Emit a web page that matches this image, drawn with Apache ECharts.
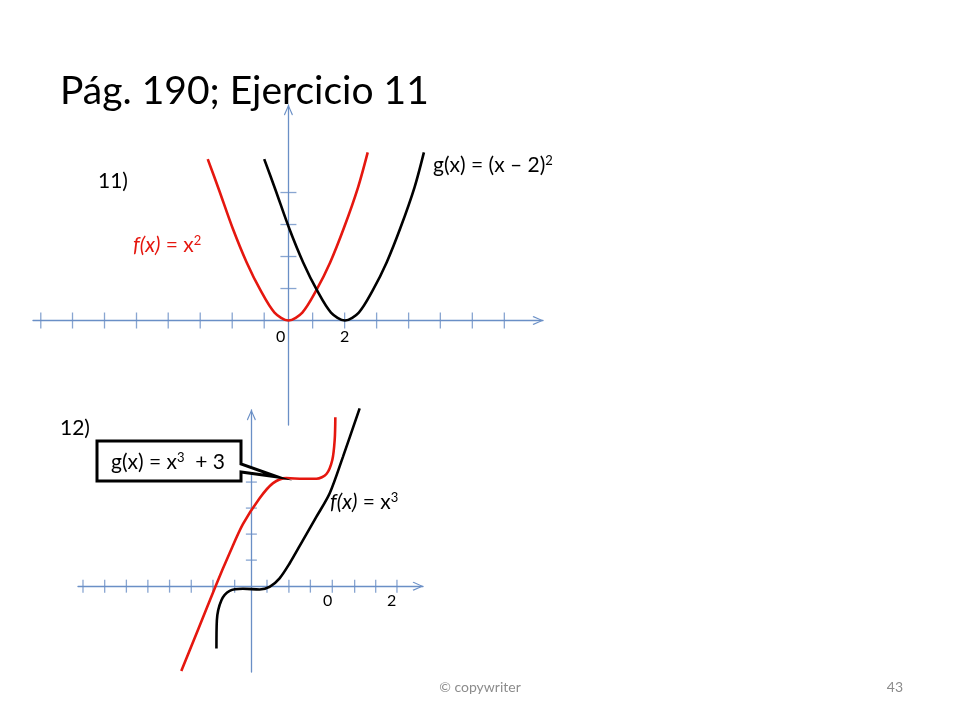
<!DOCTYPE html>
<html lang="es">
<head>
<meta charset="UTF-8">
<title>Pág. 190; Ejercicio 11</title>
<style>
  html, body { margin: 0; padding: 0; background: #fff; }
  #chart { width: 960px; height: 720px; }
</style>
</head>
<body>
<div id="chart"></div>
<script src="https://cdn.jsdelivr.net/npm/echarts@6/dist/echarts.min.js"></script>
<script>
// ---- datos ----
// ejercicio 11: f(x) = x^2 (rojo) y g(x) = (x - 2)^2 (negro)
var f11 = [[-2.90, 10.09], [-2.5, 8.19], [-2.0, 5.75], [-1.5, 3.63], [-1.0, 1.88], [-0.5, 0.5], [0, 0],
           [0.5, 0.5], [1.0, 1.88], [1.5, 3.63], [2.0, 5.81], [2.5, 8.31], [2.85, 10.51]];
var g11 = [[-0.87, 10.09], [-0.47, 8.19], [0.03, 5.75], [0.53, 3.63], [1.03, 1.88], [1.53, 0.5], [2.03, 0],
           [2.53, 0.5], [3.03, 1.88], [3.53, 3.63], [4.03, 5.81], [4.53, 8.31], [4.87, 10.51]];
var ticksX11 = [-8.90, -7.76, -6.61, -5.46, -4.32, -3.17, -2.02, -0.87, 0.87, 2.02, 3.17, 4.32, 5.46, 6.61, 7.76];
var ticksY11 = [2, 4, 6, 8];

// ejercicio 12: f(x) = x^3 (negro) y g(x) = x^3 + 3 (rojo)
var g12 = [[-3.23, -3.26], [-2.43, -1.62], [-1.65, 0], [-1.00, 1.27], [-0.39, 2.38], [0.38, 3.38],
           [1.00, 3.96], [1.61, 4.15], [2.38, 4.13], [3.00, 4.13], [3.46, 4.31], [3.73, 4.85],
           [3.84, 5.62], [3.87, 6.49]];
var f12 = [[-1.61, -2.40], [-1.59, -1.31], [-1.38, -0.54], [-1.00, -0.18], [-0.39, -0.10], [0.38, -0.13],
           [0.84, -0.03], [1.30, 0.30], [1.76, 0.87], [2.38, 1.77], [3.00, 2.67], [3.61, 3.57],
           [4.22, 4.97], [4.99, 6.83]];
var ticksX12 = [-7.76, -6.76, -5.76, -4.77, -3.77, -2.77, -1.77, -0.77, 0.72, 1.73, 2.72, 3.73, 4.76, 5.73, 6.71];
var ticksY12 = [1, 2, 3, 4];

var AXIS = '#6a8fc6';
var RED = '#e5170f';
var FONT = 'Lato, "Open Sans", sans-serif';
var ARROW = 'path://M5,0 L10,11 L9,12 L5,2.6 L1,12 L0,11 Z';

function eje(grid, min, max) {
  return {
    type: 'value', gridIndex: grid, min: min, max: max,
    axisLine: { onZero: true, lineStyle: { color: AXIS, width: 1.3 },
                symbol: ['none', ARROW], symbolSize: [9, 11], symbolOffset: [0, -5] },
    axisTick: { show: false }, axisLabel: { show: false }, splitLine: { show: false }
  };
}
function marcas(grid, vals, vertical, size) {
  return {
    type: 'scatter', xAxisIndex: grid, yAxisIndex: grid, silent: true, z: 1,
    symbol: 'rect', symbolSize: vertical ? [1.3, size] : [size, 1.3],
    itemStyle: { color: AXIS },
    data: vals.map(function (v) { return vertical ? [v, 0] : [0, v]; })
  };
}
function curva(grid, data, color) {
  return {
    type: 'line', xAxisIndex: grid, yAxisIndex: grid, data: data, smooth: 0.3,
    showSymbol: false, clip: false, silent: true, z: 3,
    lineStyle: { color: color, width: 2.6 }
  };
}
// estilos de texto enriquecido: cursiva y superindice
var rico = {
  i: { fontStyle: 'italic', fontSize: 21, fontFamily: FONT },
  s: { fontSize: 13, fontFamily: FONT, verticalAlign: 'top' }
};
function texto(x, y, t, size, color, extra) {
  var s = { text: t, font: size + 'px ' + FONT, fill: color || '#000', align: 'left',
            verticalAlign: 'middle', rich: rico };
  for (var k in extra || {}) s[k] = extra[k];
  return { type: 'text', x: x, y: y, z: 10, style: s };
}

var chart = echarts.init(document.getElementById('chart'));
chart.setOption({
  animation: false,
  grid: [
    { left: 33, top: 105, width: 510, height: 320 },
    { left: 78, top: 410, width: 345, height: 262 }
  ],
  xAxis: [eje(0, -9.18, 9.15), eje(1, -7.99, 7.91)],
  yAxis: [eje(0, -6.53, 13.47), eje(1, -3.3, 6.77)],
  series: [
    marcas(0, ticksX11, true, 16), marcas(0, ticksY11, false, 16),
    marcas(1, ticksX12, true, 13), marcas(1, ticksY12, false, 11),
    curva(0, f11, RED), curva(0, g11, '#000'),
    curva(1, g12, RED), curva(1, f12, '#000')
  ],
  graphic: [
    texto(60, 91, 'Pág. 190; Ejercicio 11', 39, '#000'),
    texto(98, 181, '11)', 21),
    texto(133, 245, '{i|f(x)} = x{s|2}', 21, RED),
    texto(433, 165, 'g(x) = (x – 2){s|2}', 21),
    texto(276, 337, '0', 16), texto(340, 337, '2', 16),
    texto(60, 428, '12)', 21),
    {
      type: 'polygon', z: 9,
      shape: { points: [[97, 441], [241, 441], [241, 464], [278, 477], [241, 472], [241, 481], [97, 481]] },
      style: { fill: '#fff', stroke: '#000', lineWidth: 3, lineJoin: 'miter' }
    },
    texto(111, 462, 'g(x) = x{s|3}  + 3', 21),
    texto(330, 502, '{i|f(x)} = x{s|3}', 21, '#000'),
    texto(323, 601, '0', 16), texto(387, 601, '2', 16),
    texto(480, 687, '© copywriter', 14, '#8c8c8c', { align: 'center' }),
    texto(903, 687, '43', 14, '#8c8c8c', { align: 'right' })
  ]
});
</script>
</body>
</html>
